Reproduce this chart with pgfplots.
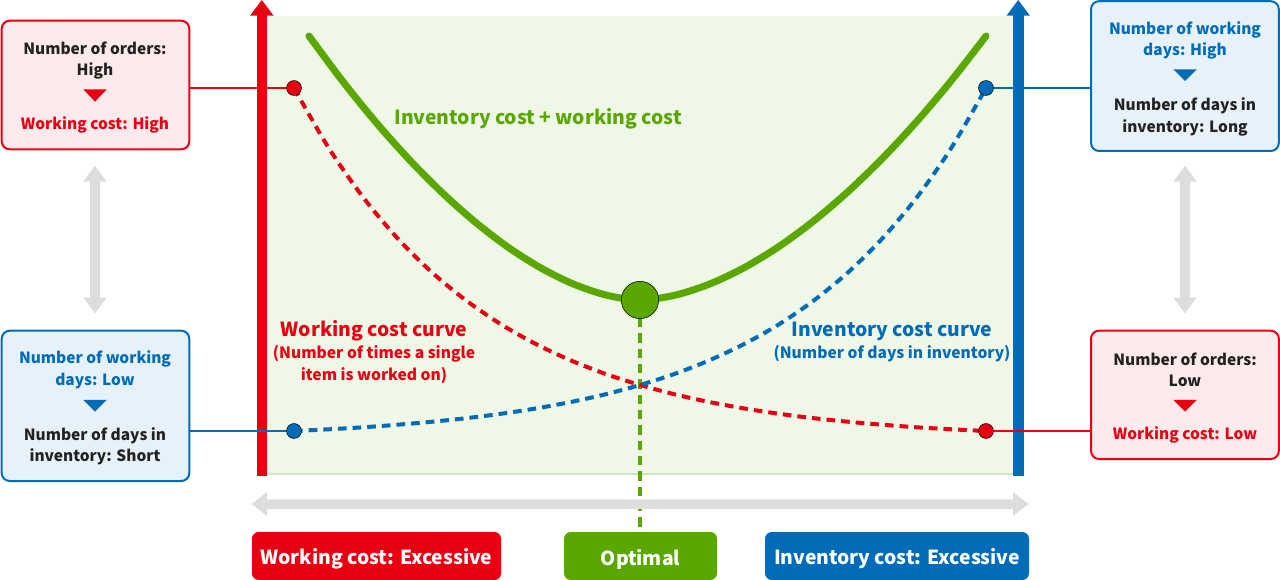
\documentclass[border=0pt]{standalone}
\usepackage{pgfplots}
\pgfplotsset{compat=1.18}
\usepackage{fontspec}
\setmainfont{Noto Sans CJK JP}

\definecolor{wred}{HTML}{E60012}
\definecolor{iblue}{HTML}{006CB8}
\definecolor{tgreen}{HTML}{5AA700}
\definecolor{bggreen}{HTML}{EFF7E7}
\definecolor{bgline}{HTML}{D3E2C3}
\definecolor{pinkfill}{HTML}{FDEAEC}
\definecolor{bluefill}{HTML}{E7F1FA}
\definecolor{arrgray}{HTML}{DDDDDD}
\definecolor{txt}{HTML}{222222}

\tikzset{
  t12/.style={font=\fontsize{11.6}{14}\selectfont\bfseries, inner sep=0pt, yshift=-1.5pt},
  t11/.style={font=\fontsize{11.7}{14}\selectfont\bfseries, inner sep=0pt, yshift=-1.2pt},
  t14/.style={font=\fontsize{14.5}{17}\selectfont\bfseries, inner sep=0pt, yshift=-1.5pt},
}

\begin{document}
\begin{tikzpicture}
\begin{axis}[
    x=0.75pt, y=0.75pt, y dir=reverse,
    xmin=0, xmax=1280, ymin=0, ymax=580,
    hide axis, clip=false
]
% canvas
\path (axis cs:0,0) rectangle (axis cs:1280,580);

% plot background
\fill[bggreen] (axis cs:266,15.7) rectangle (axis cs:1013.5,475);
\draw[bgline, line width=1.5pt] (axis cs:266,474) -- (axis cs:1013.5,474);

% vertical axes
\fill[wred] (axis cs:256.5,475.7) rectangle (axis cs:267,15);
\fill[wred] (axis cs:250,15.7) -- (axis cs:261.8,0) -- (axis cs:273.6,15.7) -- cycle;
\fill[iblue] (axis cs:1013.3,475.7) rectangle (axis cs:1023.5,15);
\fill[iblue] (axis cs:1006.4,15.7) -- (axis cs:1018.2,0) -- (axis cs:1030,15.7) -- cycle;

% connector lines
\draw[wred, line width=1.5pt] (axis cs:189,88) -- (axis cs:294,88);
\draw[iblue, line width=1.5pt] (axis cs:189,431) -- (axis cs:294,431);
\draw[iblue, line width=1.5pt] (axis cs:986,88) -- (axis cs:1091,88);
\draw[wred, line width=1.5pt] (axis cs:986,431) -- (axis cs:1091,431);

% optimal drop line
\draw[tgreen, line width=3pt, dash pattern=on 7pt off 4.5pt] (axis cs:640,318) -- (axis cs:640,532);

% working cost curve
\addplot[wred, line width=3pt, dash pattern=on 6.5pt off 4.5pt, smooth, mark=none] coordinates {
  (294,88) (328.6,147.8) (363.2,197.4) (397.8,238.6) (432.4,272.8) (467,301.1)
  (501.6,324.7) (536.2,344.2) (570.8,360.4) (605.4,373.9) (640,385)
  (674.6,394.3) (709.2,402) (743.8,408.4) (778.4,413.7) (813,418.1)
  (847.6,421.7) (882.2,424.7) (916.8,427.3) (951.4,429.3) (986,431)
};
% inventory cost curve
\addplot[iblue, line width=3pt, dash pattern=on 6.5pt off 4.5pt, smooth, mark=none] coordinates {
  (294,431) (328.6,429.3) (363.2,427.3) (397.8,424.7) (432.4,421.7) (467,418.1)
  (501.6,413.7) (536.2,408.4) (570.8,402) (605.4,394.3) (640,385)
  (674.6,373.9) (709.2,360.4) (743.8,344.2) (778.4,324.7) (813,301.1)
  (847.6,272.8) (882.2,238.6) (916.8,197.4) (951.4,147.8) (986,88)
};
% total cost curve
\addplot[tgreen, line width=5.25pt, line cap=round, smooth, mark=none] coordinates {
  (309,36) (342.1,80.5) (375.2,121.4) (408.3,158.6) (441.4,192) (474.5,221.5)
  (507.6,246.9) (540.7,267.9) (573.8,284.2) (606.9,295.3) (640,300)
  (674.6,295.3) (709.2,284.2) (743.8,267.9) (778.4,246.9) (813,221.5)
  (847.6,192) (882.2,158.6) (916.8,121.4) (951.4,80.5) (986,36)
};

% end points
\addplot[only marks, mark=*, mark size=5.6pt, mark options={fill=wred, draw=none}]
  coordinates {(294,88) (986,431)};
\addplot[only marks, mark=*, mark size=5.6pt, mark options={fill=iblue, draw=none}]
  coordinates {(294,431) (986,88)};
\addplot[only marks, mark=*, mark size=14pt, mark options={fill=tgreen, draw=none}]
  coordinates {(640,300)};

% curve labels
\node[t14, text=tgreen] at (axis cs:538,117) {Inventory cost + working cost};
\node[t14, text=wred] at (axis cs:374,329) {Working cost curve};
\node[t11, text=wred] at (axis cs:374,352) {(Number of times a single};
\node[t11, text=wred] at (axis cs:374,374) {item is worked on)};
\node[t14, text=iblue] at (axis cs:892,329) {Inventory cost curve};
\node[t11, text=iblue] at (axis cs:892,352) {(Number of days in inventory)};

% gray arrows
\fill[arrgray] (axis cs:251.7,504) -- (axis cs:267,492) -- (axis cs:267,499.3)
  -- (axis cs:1013,499.3) -- (axis cs:1013,492) -- (axis cs:1028.5,504)
  -- (axis cs:1013,516) -- (axis cs:1013,509) -- (axis cs:267,509)
  -- (axis cs:267,516) -- cycle;
\fill[arrgray] (axis cs:95,165.7) -- (axis cs:106.7,181.7) -- (axis cs:100,181.7)
  -- (axis cs:100,297.7) -- (axis cs:106.7,297.7) -- (axis cs:95,313.3)
  -- (axis cs:83.3,297.7) -- (axis cs:90,297.7) -- (axis cs:90,181.7)
  -- (axis cs:83.3,181.7) -- cycle;
\fill[arrgray] (axis cs:1185,165.7) -- (axis cs:1196.7,181.7) -- (axis cs:1190,181.7)
  -- (axis cs:1190,297.7) -- (axis cs:1196.7,297.7) -- (axis cs:1185,313.3)
  -- (axis cs:1173.3,297.7) -- (axis cs:1180,297.7) -- (axis cs:1180,181.7)
  -- (axis cs:1173.3,181.7) -- cycle;

% side boxes
\draw[wred, fill=pinkfill, line width=1.5pt, rounded corners=6pt]
  (axis cs:1.7,20.7) rectangle (axis cs:189.3,149.3);
\node[t12, text=txt] at (axis cs:95,46.7) {Number of orders:};
\node[t12, text=txt] at (axis cs:95,69) {High};
\fill[wred] (axis cs:83.3,89.3) -- (axis cs:106.7,89.3) -- (axis cs:95,101.7) -- cycle;
\node[t12, text=wred] at (axis cs:95,123) {Working cost: High};

\draw[iblue, fill=bluefill, line width=1.5pt, rounded corners=6pt]
  (axis cs:1.7,330.7) rectangle (axis cs:189.3,481);
\node[t12, text=iblue] at (axis cs:95,357.3) {Number of working};
\node[t12, text=iblue] at (axis cs:95,379) {days: Low};
\fill[iblue] (axis cs:83.3,400) -- (axis cs:106.7,400) -- (axis cs:95,411.5) -- cycle;
\node[t12, text=txt] at (axis cs:95,433.3) {Number of days in};
\node[t12, text=txt] at (axis cs:95,455) {inventory: Short};

\draw[iblue, fill=bluefill, line width=1.5pt, rounded corners=6pt]
  (axis cs:1091,1.2) rectangle (axis cs:1278.8,151);
\node[t12, text=iblue] at (axis cs:1185,27.7) {Number of working};
\node[t12, text=iblue] at (axis cs:1185,49) {days: High};
\fill[iblue] (axis cs:1173.3,69.3) -- (axis cs:1196.7,69.3) -- (axis cs:1185,81) -- cycle;
\node[t12, text=txt] at (axis cs:1185,104) {Number of days in};
\node[t12, text=txt] at (axis cs:1185,126) {inventory: Long};

\draw[wred, fill=pinkfill, line width=1.5pt, rounded corners=6pt]
  (axis cs:1091,330.7) rectangle (axis cs:1278.8,459);
\node[t12, text=txt] at (axis cs:1185,357.7) {Number of orders:};
\node[t12, text=txt] at (axis cs:1185,379.3) {Low};
\fill[wred] (axis cs:1173.3,400) -- (axis cs:1196.7,400) -- (axis cs:1185,411.5) -- cycle;
\node[t12, text=wred] at (axis cs:1185,433.3) {Working cost: Low};

% bottom boxes
\fill[wred, rounded corners=5pt] (axis cs:252,532) rectangle (axis cs:501,580);
\node[t14, text=white] at (axis cs:376.5,557) {Working cost: Excessive};
\fill[tgreen, rounded corners=5pt] (axis cs:564,532) rectangle (axis cs:717,580);
\node[t14, text=white] at (axis cs:640.5,557) {Optimal};
\fill[iblue, rounded corners=5pt] (axis cs:765,532) rectangle (axis cs:1029,580);
\node[t14, text=white] at (axis cs:897,557) {Inventory cost: Excessive};

\end{axis}
\end{tikzpicture}
\end{document}
